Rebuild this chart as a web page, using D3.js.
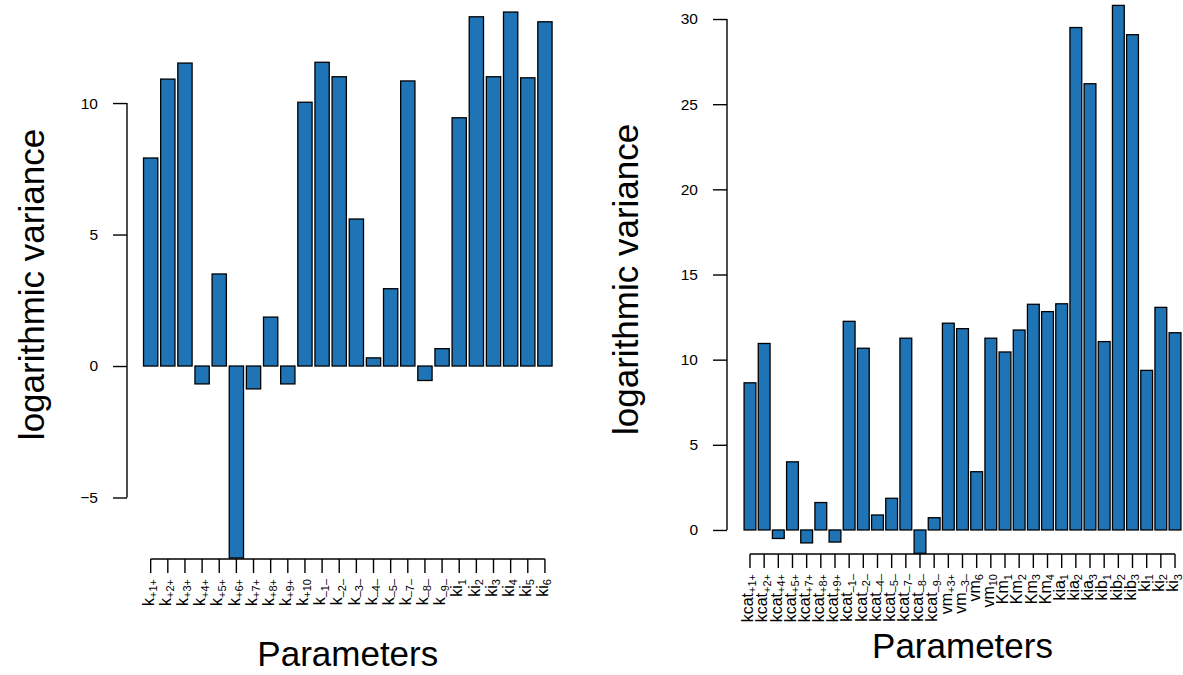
<!DOCTYPE html>
<html>
<head>
<meta charset="utf-8">
<script src="https://cdn.jsdelivr.net/npm/d3@7"></script>
<style>
  body { margin: 0; background: #fff; }
  svg { display: block; font-family: "Liberation Sans", Arial, Helvetica, sans-serif; }
</style>
</head>
<body>
<svg id="chart" width="1183" height="675"></svg>
<script>
// Левая панель: подписи и значения
let leftLabels = ["k_+1+", "k_+2+", "k_+3+", "k_+4+", "k_+5+", "k_+6+", "k_+7+", "k_+8+", "k_+9+", "k_+10",
  "k_–1–", "k_–2–", "k_–3–", "k_–4–", "k_–5–", "k_–7–", "k_–8–", "k_–9–",
  "ki_1", "ki_2", "ki_3", "ki_4", "ki_5", "ki_6"];
let leftValues = [7.91, 10.91, 11.52, -0.68, 3.5, -7.3, -0.87, 1.86, -0.68, 10.03,
  11.55, 11.0, 5.59, 0.31, 2.94, 10.84, -0.55, 0.66,
  9.44, 13.28, 11.0, 13.46, 10.96, 13.09];
let leftTicks = [-5, 0, 5, 10];

// Правая панель
let rightLabels = ["kcat_+1+", "kcat_+2+", "kcat_+4+", "kcat_+5+", "kcat_+7+", "kcat_+8+", "kcat_+9+",
  "kcat_–1–", "kcat_–2–", "kcat_–4–", "kcat_–5–", "kcat_–7–", "kcat_–8–", "kcat_–9–",
  "vm_+3+", "vm_–3–", "vm_6", "vm_10", "Km_1", "Km_2", "Km_3", "Km_4",
  "kia_1", "kia_2", "kia_3", "kib_1", "kib_2", "kib_3", "ki_1", "ki_2", "ki_3"];
let rightValues = [8.64, 10.95, -0.5, 4.0, -0.76, 1.61, -0.71,
  12.25, 10.67, 0.88, 1.86, 11.26, -1.37, 0.72,
  12.14, 11.82, 3.42, 11.26, 10.45, 11.74, 13.25, 12.82,
  13.28, 29.5, 26.2, 11.06, 30.8, 29.08, 9.37, 13.07, 11.58];
let rightTicks = [0, 5, 10, 15, 20, 25, 30];

let svg = d3.select("#chart");

// Рисуем одну панель (barplot в стиле R)
let drawPanel = (p) => {
  let g = svg.append("g");

  let x = d3.scaleBand()
    .domain(p.labels)
    .range(p.xRange)
    .paddingInner(1 / 6)
    .paddingOuter(1 / 12);

  let y = d3.scaleLinear()
    .domain(p.yDomain)
    .range(p.yRange);

  // столбики
  g.selectAll("rect.bar")
    .data(p.values)
    .join("rect")
    .attr("class", "bar")
    .attr("x", (d, i) => x(p.labels[i]))
    .attr("width", x.bandwidth())
    .attr("y", d => y(Math.max(0, d)))
    .attr("height", d => Math.abs(y(d) - y(0)))
    .attr("fill", "#1f74b6")
    .attr("stroke", "#000")
    .attr("stroke-width", 1.3);

  // ось Y
  let yAxis = g.append("g")
    .attr("transform", `translate(${p.axisX},0)`)
    .call(d3.axisLeft(y).tickValues(p.ticks).tickSize(14).tickPadding(15));
  yAxis.select(".domain").remove();
  yAxis.selectAll("line").attr("stroke-width", 1.4);
  yAxis.selectAll("text").attr("font-size", 15.5).attr("fill", "#000")
    .attr("font-family", "Liberation Sans, Arial, sans-serif");
  yAxis.append("line")
    .attr("y1", y(d3.min(p.ticks)))
    .attr("y2", y(d3.max(p.ticks)))
    .attr("stroke", "#000")
    .attr("stroke-width", 1.4);

  // ось X
  let xAxis = g.append("g")
    .attr("transform", `translate(0,${p.axisY})`)
    .call(d3.axisBottom(x).tickSize(14).tickFormat(""));
  xAxis.select(".domain").remove();
  xAxis.selectAll("line").attr("stroke-width", 1.4);
  let first = x(p.labels[0]) + x.bandwidth() / 2;
  let last = x(p.labels[p.labels.length - 1]) + x.bandwidth() / 2;
  xAxis.append("line")
    .attr("x1", first)
    .attr("x2", last)
    .attr("stroke", "#000")
    .attr("stroke-width", 1.4);

  // подписи с индексами, повернутые вертикально
  p.labels.forEach(lab => {
    let [base, sub] = lab.split("_");
    let cx = x(lab) + x.bandwidth() / 2;
    let t = g.append("text")
      .attr("transform", `translate(${cx},${p.axisY + 20}) rotate(-90)`)
      .attr("text-anchor", "end")
      .attr("dy", "0.2em")
      .attr("font-size", 16);
    t.append("tspan").text(base);
    t.append("tspan")
      .attr("font-size", 11)
      .attr("dy", "0.3em")
      .text(sub);
  });

  // названия осей
  g.append("text")
    .attr("transform", `translate(${p.yTitleX},${(p.yRange[0] + p.yRange[1]) / 2}) rotate(-90)`)
    .attr("text-anchor", "middle")
    .attr("font-size", 35)
    .text("logarithmic variance");

  g.append("text")
    .attr("x", (first + last) / 2)
    .attr("y", p.xTitleY)
    .attr("text-anchor", "middle")
    .attr("font-size", 35)
    .text("Parameters");
};

drawPanel({
  labels: leftLabels,
  values: leftValues,
  ticks: leftTicks,
  xRange: [142.1, 553.5],
  yDomain: [-7.3, 13.5],
  yRange: [558, 11],
  axisX: 127,
  axisY: 559,
  yTitleX: 44,
  xTitleY: 666
});

drawPanel({
  labels: rightLabels,
  values: rightValues,
  ticks: rightTicks,
  xRange: [742.9, 1182.1],
  yDomain: [-1.37, 30.8],
  yRange: [553.3, 5.4],
  axisX: 727,
  axisY: 554,
  yTitleX: 638,
  xTitleY: 658
});
</script>
</body>
</html>
